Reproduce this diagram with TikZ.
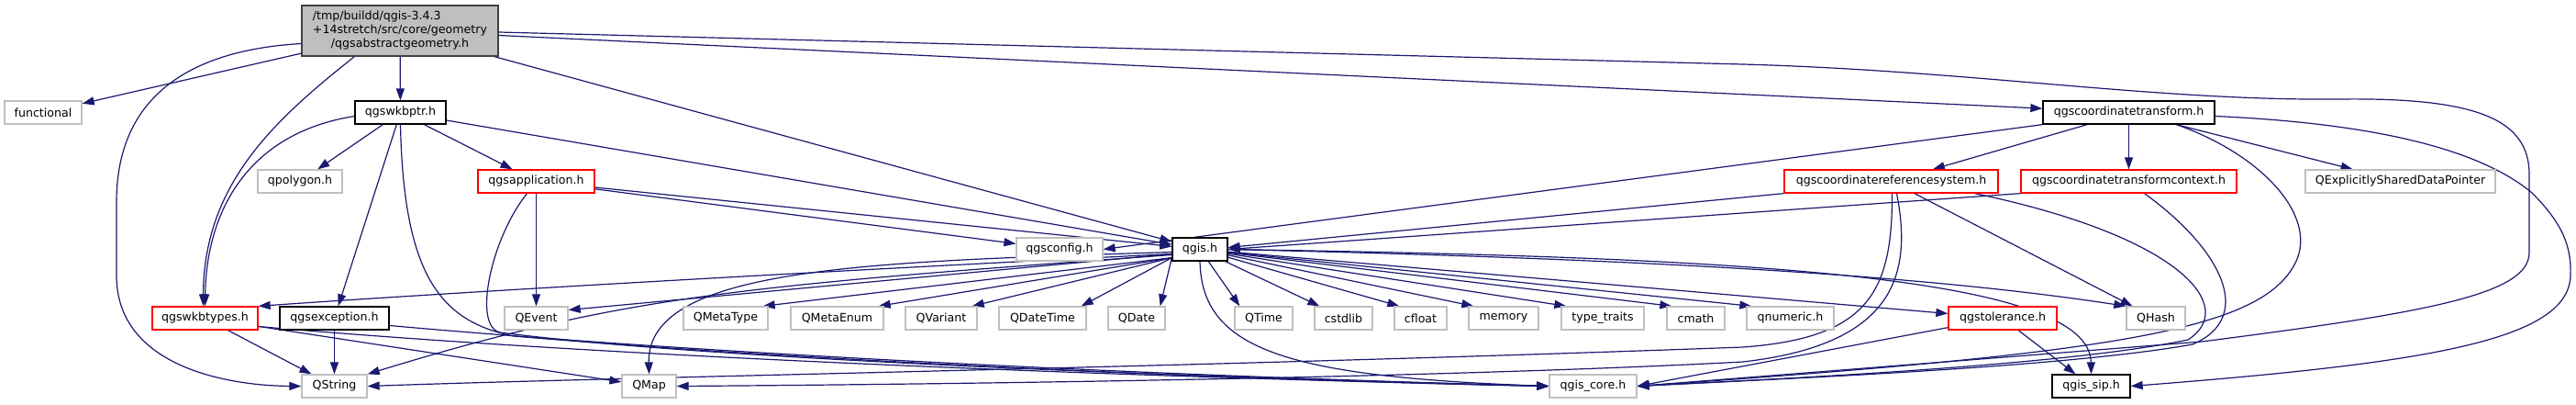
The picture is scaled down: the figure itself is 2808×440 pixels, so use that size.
\documentclass[tikz,border=0pt]{standalone}
\usepackage{fontspec}
\setmainfont{DejaVu Sans}
\usetikzlibrary{arrows.meta,calc}
\pgfdeclarelayer{bg}
\pgfsetlayers{bg,main}
\definecolor{edgec}{HTML}{191970}
\definecolor{graybd}{HTML}{BFBFBF}
\definecolor{rootfill}{HTML}{BFBFBF}
\definecolor{rootbd}{HTML}{404040}
\definecolor{redbd}{HTML}{FF0000}
\begin{document}
\begin{tikzpicture}[x=1pt,y=-1pt,
  nd/.style={draw, rectangle, fill=white, inner sep=0pt, minimum height=25pt, line width=1.3pt, font=\fontsize{12.6pt}{15pt}\selectfont},
  gnode/.style={nd, draw=graybd},
  rnode/.style={nd, draw=redbd},
  bnode/.style={nd, draw=black},
  dep/.style={draw=edgec, line width=1.2pt, -{Triangle[length=13pt,width=9pt]}}]
\begin{pgfonlayer}{bg}
\fill[white] (0,0) rectangle (2808,440);
\end{pgfonlayer}
\useasboundingbox (0,0) rectangle (2808,440);

% nodes
\node[nd, fill=rootfill, draw=rootbd, minimum width=214pt, minimum height=55pt, align=center] (root) at (436,33.5)
  {\rlap{/tmp/buildd/qgis-3.4.3}\phantom{+14stretch/src/core/geometry}\\+14stretch/src/core/geometry\\/qgsabstractgeometry.h};
\node[gnode, minimum width=84pt] (functional) at (47,122.5) {functional};
\node[bnode, minimum width=99pt] (qgswkbptr) at (436.5,122.5) {qgswkbptr.h};
\node[bnode, minimum width=187pt] (ct) at (2320.5,122.5) {qgscoordinatetransform.h};
\node[gnode, minimum width=92pt] (qpolygon) at (327,197.5) {qpolygon.h};
\node[rnode, minimum width=127pt] (qgsapplication) at (584.5,197.5) {qgsapplication.h};
\node[rnode, minimum width=233pt] (crs) at (2061.5,197.5) {qgscoordinatereferencesystem.h};
\node[rnode, minimum width=235pt] (context) at (2320.5,197.5) {qgscoordinatetransformcontext.h};
\node[gnode, minimum width=207pt] (QExpl) at (2616.5,197.5) {QExplicitlySharedDataPointer};
\node[gnode, minimum width=94pt] (qgsconfig) at (1155,271.5) {qgsconfig.h};
\node[bnode, minimum width=60pt] (qgis) at (1308,271.5) {qgis.h};
\node[rnode, minimum width=115pt] (qgswkbtypes) at (223.5,346.5) {qgswkbtypes.h};
\node[bnode, minimum width=119pt] (qgsexception) at (364.5,346.5) {qgsexception.h};
\node[gnode, minimum width=69pt] (QEvent) at (584.5,346.5) {QEvent};
\node[gnode, minimum width=92pt] (QMetaType) at (791,346.5) {QMetaType};
\node[gnode, minimum width=101pt] (QMetaEnum) at (912.5,346.5) {QMetaEnum};
\node[gnode, minimum width=78pt] (QVariant) at (1026,346.5) {QVariant};
\node[gnode, minimum width=95pt] (QDateTime) at (1136.5,346.5) {QDateTime};
\node[gnode, minimum width=62pt] (QDate) at (1239,346.5) {QDate};
\node[gnode, minimum width=63pt] (QTime) at (1377.5,346.5) {QTime};
\node[gnode, minimum width=63pt] (cstdlib) at (1464.5,346.5) {cstdlib};
\node[gnode, minimum width=57pt] (cfloat) at (1548.5,346.5) {cfloat};
\node[gnode, minimum width=76pt] (memory) at (1639,346.5) {memory};
\node[gnode, minimum width=90pt] (typetraits) at (1747,346.5) {type\_traits};
\node[gnode, minimum width=63pt] (cmath) at (1848.5,346.5) {cmath};
\node[gnode, minimum width=95pt] (qnumeric) at (1951.5,346.5) {qnumeric.h};
\node[rnode, minimum width=118pt] (qgstolerance) at (2183,346.5) {qgstolerance.h};
\node[gnode, minimum width=64pt] (QHash) at (2350,346.5) {QHash};
\node[gnode, minimum width=71pt] (QString) at (364.5,420.5) {QString};
\node[gnode, minimum width=59pt] (QMap) at (707.5,420.5) {QMap};
\node[gnode, minimum width=95pt] (qgiscore) at (1736.5,420.5) {qgis\_core.h};
\node[bnode, minimum width=85pt] (qgissip) at (2279.5,420.5) {qgis\_sip.h};

\begin{pgfonlayer}{bg}
% root
\draw[dep] (root) -- (functional);
\draw[dep] (root) -- (qgswkbptr);
\draw[dep] ($(root.south west)+(58,0)$) .. controls (300,130) and (222,200) .. ($(qgswkbtypes.north)+(-2,0)$);
\draw[dep] ($(root.west)+(0,14)$) .. controls (200,55) and (127,110) .. (127,220) -- (127,300) .. controls (127,400) and (250,420) .. (QString.west);
\draw[dep] (root) -- (qgis);
\draw[dep] (root) -- (ct);
\draw[dep] ($(root.east)+(0,1.5)$) -- (1900,70) .. controls (2150,77) and (2350,110) .. (2550,108) .. controls (2700,106) and (2757,130) .. (2757,190) -- (2757,275) .. controls (2757,320) and (2650,340) .. (2400,372) -- (qgiscore.east);
% qgswkbptr
\draw[dep] ($(qgswkbptr.west)+(0,4)$) .. controls (270,145) and (225,230) .. (qgswkbtypes.north);
\draw[dep] (qgswkbptr) -- (qpolygon);
\draw[dep] (qgswkbptr) -- (qgsapplication);
\draw[dep] (qgswkbptr) -- (qgsexception);
\draw[dep] (qgswkbptr) -- (qgis);
\draw[dep] (qgswkbptr.south) .. controls (440,300) and (480,350) .. (560,366) .. controls (900,395) and (1400,415) .. (qgiscore.west);
% qgsapplication
\draw[dep] (qgsapplication) -- (QEvent);
\draw[dep] (qgsapplication) -- (qgsconfig);
\draw[dep] (qgsapplication) -- (qgis);
\draw[dep] ($(qgsapplication.south)+(-10,0)$) .. controls (535,260) and (515,355) .. (545,362) .. controls (800,395) and (1400,413) .. (qgiscore.west);
% qgswkbtypes
\draw[dep] (qgswkbtypes) -- (QString);
\draw[dep] (qgswkbtypes) -- (QMap);
\draw[dep] ($(qgswkbtypes.east)+(0,9)$) .. controls (700,392) and (1300,412) .. (qgiscore.west);
% qgsexception
\draw[dep] (qgsexception) -- (QString);
\draw[dep] ($(qgsexception.east)+(0,8)$) .. controls (800,388) and (1300,410) .. (qgiscore.west);
% qgis
\draw[dep] ($(qgis.west)+(0,5)$) .. controls (900,295) and (500,318) .. (qgswkbtypes.north east);
\draw[dep] ($(qgis.west)+(0,5)$) -- ($(QEvent.east)+(0,-9)$);
\draw[dep] ($(qgis.west)+(0,6)$) .. controls (800,312) and (680,322) .. (QString.north east);
\draw[dep] ($(qgis.west)+(0,3)$) .. controls (950,285) and (705,290) .. (QMap.north);
\foreach \t in {QMetaType,QMetaEnum,QVariant,QDateTime,QDate}
  \draw[dep] ($(qgis.south west)+(0,-4)$) -- ($(\t.north east)+(-6,0)$);
\foreach \t in {QTime,cstdlib,cfloat,memory,typetraits,cmath,qnumeric}
  \draw[dep] (qgis) -- ($(\t.north west)+(6,0)$);
\draw[dep] (qgis) -- (qgstolerance);
\draw[dep] (qgis.east) .. controls (1800,282) and (2100,300) .. (QHash.north west);
\draw[dep] (qgis.east) .. controls (1900,280) and (2278,300) .. (qgissip.north);
\draw[dep] (qgis.south) .. controls (1310,380) and (1400,410) .. (qgiscore.west);
% qgscoordinatetransform
\draw[dep] (ct.south west) -- (qgsconfig.east);
\draw[dep] (ct) -- (crs);
\draw[dep] (ct) -- (context);
\draw[dep] (ct) -- (QExpl);
\draw[dep] ($(ct.south)+(52,0)$) .. controls (2470,170) and (2530,240) .. (2500,290) .. controls (2460,360) and (2300,385) .. (qgiscore.east);
\draw[dep] ($(ct.east)+(0,4)$) .. controls (2580,134) and (2700,160) .. (2760,210) .. controls (2795,245) and (2803,270) .. (2802,300) .. controls (2800,370) and (2650,395) .. (qgissip.east);
% crs
\draw[dep] (crs.south west) -- ($(qgis.east)+(0,-2)$);
\draw[dep] (crs) -- (QHash);
\draw[dep] ($(crs.south)+(1,0)$) .. controls (2063,320) and (2035,368) .. (1900,378) .. controls (1300,400) and (700,410) .. (QString.east);
\draw[dep] ($(crs.south)+(6,0)$) .. controls (2085,300) and (2065,375) .. (1900,394) .. controls (1600,410) and (1100,418) .. (QMap.east);
\draw[dep] ($(crs.south east)+(-26,0)$) .. controls (2380,258) and (2440,335) .. (2385,370) .. controls (2250,398) and (1950,412) .. (qgiscore.east);
% context
\draw[dep] (context.south west) -- (qgis.east);
\draw[dep] ($(context.south)+(17,0)$) .. controls (2420,270) and (2460,345) .. (2390,375) .. controls (2250,400) and (1950,412) .. (qgiscore.east);
% qgstolerance
\draw[dep] ($(qgstolerance.south west)+(0,-3)$) -- (qgiscore.east);
\draw[dep] (qgstolerance) -- (qgissip);
\end{pgfonlayer}
\end{tikzpicture}
\end{document}
